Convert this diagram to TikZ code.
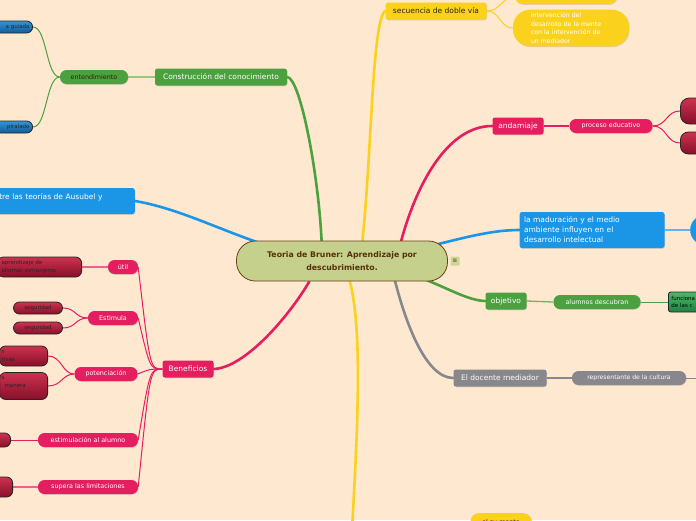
\documentclass[tikz,border=0pt]{standalone}
\usepackage{fontspec}
\setmainfont{DejaVu Sans}
\usetikzlibrary{backgrounds, shadows}
\definecolor{bgcolor}{RGB}{254,232,208}
\definecolor{rootfill}{RGB}{196,208,140}
\definecolor{rootline}{RGB}{105,65,20}
\definecolor{roottext}{RGB}{85,50,10}
\definecolor{notefill}{RGB}{205,214,150}
\definecolor{greencolor}{RGB}{76,160,64}
\definecolor{lightgreen}{RGB}{150,200,130}
\definecolor{bluecolor}{RGB}{27,150,230}
\definecolor{redcolor}{RGB}{228,30,95}
\definecolor{yellowcolor}{RGB}{250,210,30}
\definecolor{greycolor}{RGB}{135,135,140}
\definecolor{leafredtop}{RGB}{205,50,80}
\definecolor{leafredbot}{RGB}{135,15,40}
\definecolor{leafbluetop}{RGB}{50,150,215}
\definecolor{leafbluebot}{RGB}{20,90,150}
\definecolor{leafgreentop}{RGB}{75,185,105}
\definecolor{leafgreenbot}{RGB}{30,130,65}
\definecolor{darktext}{RGB}{45,35,10}
\tikzset{
    root/.style={rectangle, rounded corners=19pt, draw=rootline, line width=0.8pt,
        fill=rootfill, text=roottext, minimum width=211pt, minimum height=40pt,
        align=center, font=\bfseries\fontsize{7.8}{12.5}\selectfont},
    notebox/.style={rectangle, rounded corners=1pt, fill=notefill, text=roottext,
        minimum size=9pt, inner sep=0.5pt, font=\fontsize{6}{6}\selectfont},
    topic/.style={rectangle, rounded corners=2.5pt, minimum height=17pt,
        inner xsep=4.5pt, inner ysep=2pt, text=white, font=\fontsize{7.5}{10}\selectfont,
        drop shadow={shadow xshift=0.6pt, shadow yshift=-0.8pt, opacity=0.25}},
    subtopic/.style={rectangle, rounded corners=6.5pt, minimum height=14pt,
        inner xsep=7pt, inner ysep=1pt, text=white, font=\fontsize{6.4}{8}\selectfont,
        drop shadow={shadow xshift=0.6pt, shadow yshift=-0.8pt, opacity=0.25}},
    leaf/.style={rectangle, rounded corners=6pt, draw=black!85, line width=0.8pt,
        top color=leafredtop, bottom color=leafredbot, text=black!85,
        font=\fontsize{5.5}{7.5}\selectfont, inner xsep=3pt, inner ysep=1pt, minimum height=12pt},
    blueleaf/.style={leaf, top color=leafbluetop, bottom color=leafbluebot},
    greenleaf/.style={leaf, rounded corners=2.5pt, top color=leafgreentop, bottom color=leafgreenbot},
    branch/.style={line width=2.6pt, line cap=round},
    link/.style={line width=1pt}
}

\begin{document}
\begin{tikzpicture}[x=1pt, y=-1pt]
    \useasboundingbox (0,0) rectangle (696,520);

    % centre
    \node[root] (bruner) at (342,261) {Teoria de Bruner: Aprendizaje por\\descubrimiento.};
    \node[notebox] (nota) at (455,261) {≡};

    % main topics
    \node[topic, fill=greencolor, minimum width=132pt] (construccion) at (221,77) {Construcción del conocimiento};
    \node[topic, fill=bluecolor, anchor=east, text width=131pt, align=left, minimum height=26pt] (ausubel) at (135,201) {tre las teorías de Ausubel y\\~};
    \node[topic, fill=redcolor, minimum width=51pt] (beneficios) at (188,369) {Beneficios};
    \node[topic, fill=yellowcolor, text=darktext, minimum width=101pt] (secuencia) at (436,11) {secuencia de doble vía};
    \node[topic, fill=redcolor, minimum width=51pt] (andamiaje) at (518,126) {andamiaje};
    \node[topic, fill=bluecolor, text width=136pt, align=left, minimum height=36pt] (maduracion) at (592,230) {la maduración y el medio\\ambiente influyen en el\\desarrollo intelectual};
    \node[topic, fill=greencolor, minimum width=41pt] (objetivo) at (506,301) {objetivo};
    \node[topic, fill=greycolor, minimum width=93pt] (docente) at (500,378) {El docente mediador};

    % subtopics
    \node[subtopic, fill=greencolor, text=darktext, minimum width=68pt] (entendimiento) at (94,77) {entendimiento};
    \node[subtopic, fill=redcolor, minimum width=30pt] (util) at (123,267) {útil};
    \node[subtopic, fill=redcolor, minimum width=50pt] (estimula) at (113,318) {Estimula};
    \node[subtopic, fill=redcolor, minimum width=63pt] (potenciacion) at (106,374) {potenciación};
    \node[subtopic, fill=redcolor, minimum width=100pt] (estimulacion) at (88,440) {estimulación al alumno};
    \node[subtopic, fill=redcolor, minimum width=100pt] (supera) at (88,487) {supera las limitaciones};
    \node[subtopic, fill=yellowcolor, minimum width=102pt, minimum height=16pt, rounded corners=8pt] (yellowtop) at (566,-4) {};
    \node[subtopic, fill=yellowcolor, text width=80pt, align=left, inner xsep=18pt, inner ysep=3pt,
        rounded corners=17pt, font=\fontsize{6.2}{8.5}\selectfont] (intervencion) at (571,28)
        {intervención del\\desarrollo de la mente\\con la intervención de\\un mediador};
    \node[subtopic, fill=redcolor, minimum width=83pt] (proceso) at (611,126) {proceso educativo};
    \node[subtopic, fill=bluecolor, anchor=west, minimum width=60pt, minimum height=30pt, rounded corners=15pt] (bluecircle) at (690,230) {};
    \node[subtopic, fill=greencolor, minimum width=87pt] (alumnos) at (597,302) {alumnos descubran};
    \node[subtopic, fill=greycolor, minimum width=114pt, font=\fontsize{6.1}{8}\selectfont] (representante) at (629,378) {representante de la cultura};
    \node[subtopic, fill=yellowcolor, text=darktext, anchor=north, minimum width=61pt, minimum height=18pt, rounded corners=8pt] (sumente) at (501,513) {el su mente};
    \coordinate (greyend) at (700,378);

    % leaves
    \node[blueleaf, anchor=east, text width=60pt, align=right] (guiada) at (33,27) {a guiada};
    \node[blueleaf, anchor=east, text width=60pt, align=right] (espiral) at (33,127) {piralado};
    \node[leaf, anchor=east, text width=76pt, align=left, minimum height=20pt, inner xsep=4pt] (idiomas) at (82,267) {aprendizaje de\\idiomas extranjeros};
    \node[leaf, minimum width=49pt] (seguridadA) at (38,308) {seguridad};
    \node[leaf, minimum width=49pt] (seguridadB) at (38,328) {seguridad};
    \node[leaf, anchor=east, text width=44pt, align=left, minimum height=20pt, inner xsep=2pt] (potA) at (48,356) {s\\tivas};
    \node[leaf, anchor=east, text width=44pt, align=left, minimum height=27pt, inner xsep=2pt,
        font=\fontsize{5.5}{8.5}\selectfont] (potB) at (48,386) {s\\\hspace{3pt}manera\\~};
    \node[leaf, anchor=east, minimum width=40pt, minimum height=14pt] (alumnoleaf) at (11,440) {};
    \node[leaf, anchor=east, minimum width=40pt, minimum height=20pt] (limitleaf) at (13,487) {};
    \node[leaf, anchor=west, minimum width=60pt, minimum height=26pt, rounded corners=9pt] (procA) at (680,111) {};
    \node[leaf, anchor=west, minimum width=60pt, minimum height=22pt, rounded corners=8pt] (procB) at (680,143) {};
    \node[greenleaf, anchor=west, text width=50pt, align=left, minimum height=20pt, text=black] (funciona) at (668,302) {funciona\\de las c};

    \begin{scope}[on background layer]
        \fill[bgcolor] (0,0) rectangle (696,520);

        % main branches
        \draw[branch, greencolor] (bruner.135) .. controls (318,170) and (300,78) .. (construccion.east);
        \draw[branch, bluecolor] (bruner.center) .. controls (260,255) and (200,212) .. (ausubel.east);
        \draw[branch, redcolor] (bruner.212) .. controls (290,315) and (245,368) .. (beneficios.east);
        \draw[branch, yellowcolor] (bruner.45) .. controls (372,150) and (372,20) .. (secuencia.west);
        \draw[branch, yellowcolor] (bruner.center) .. controls (365,300) and (358,420) .. (352,530);
        \draw[branch, redcolor] (bruner.19) .. controls (415,190) and (445,126) .. (andamiaje.west);
        \draw[branch, bluecolor] (bruner.center) .. controls (420,255) and (470,230) .. (maduracion.west);
        \draw[branch, greencolor] (bruner.center) .. controls (420,265) and (455,300) .. (objetivo.west);
        \draw[branch, greycolor] (bruner.-21) .. controls (405,320) and (425,378) .. (docente.west);

        % sub branches
        \draw[link, lightgreen, line width=1.5pt] (construccion.west) -- (entendimiento.east);
        \draw[link, greencolor] (entendimiento.west) .. controls (46,77) and (47,27) .. (guiada.east);
        \draw[link, greencolor] (entendimiento.west) .. controls (46,77) and (47,127) .. (espiral.east);

        \foreach \sub in {util, estimula, potenciacion, estimulacion, supera}
            \draw[link, redcolor] (beneficios.west) .. controls (150,369) and (150,369) .. (\sub.east);
        \draw[link, redcolor!70, line width=1.5pt] (util.west) -- (idiomas.east);
        \draw[link, redcolor] (estimula.west) .. controls (75,318) and (76,308) .. (seguridadA.east);
        \draw[link, redcolor] (estimula.west) .. controls (75,318) and (76,328) .. (seguridadB.east);
        \draw[link, redcolor] (potenciacion.west) .. controls (62,374) and (62,356) .. (potA.east);
        \draw[link, redcolor] (potenciacion.west) .. controls (62,374) and (62,386) .. (potB.east);
        \draw[link, redcolor] (estimulacion.west) -- (alumnoleaf.east);
        \draw[link, redcolor!70, line width=1.5pt] (supera.west) -- (limitleaf.east);

        \draw[link, yellowcolor] (secuencia.east) .. controls (500,11) and (502,-2) .. (yellowtop.west);
        \draw[link, yellowcolor] (secuencia.east) .. controls (500,11) and (500,28) .. (intervencion.west);

        \draw[link, redcolor, line width=1.3pt] (andamiaje.east) -- (proceso.west);
        \draw[link, redcolor] (proceso.east) .. controls (667,126) and (666,111) .. (procA.west);
        \draw[link, redcolor] (proceso.east) .. controls (667,126) and (666,143) .. (procB.west);

        \draw[link, bluecolor!70, line width=1.3pt] (maduracion.east) -- (bluecircle.west);
        \draw[link, greencolor!80, line width=1.3pt] (objetivo.east) -- (alumnos.west);
        \draw[link, greencolor] (alumnos.east) -- (funciona.west);
        \draw[link, greycolor, line width=1.3pt] (docente.east) -- (representante.west);
        \draw[link, greycolor] (representante.east) -- (greyend);
    \end{scope}
\end{tikzpicture}
\end{document}
